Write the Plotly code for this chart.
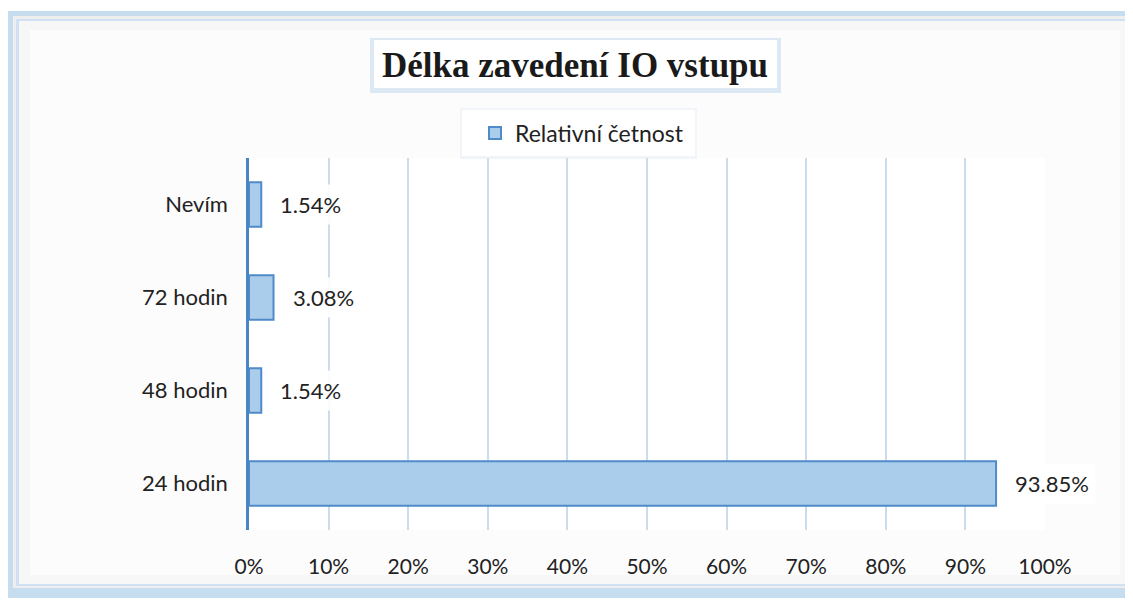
import plotly.graph_objects as go

categories = ["24 hodin", "48 hodin", "72 hodin", "Nevím"]
values = [93.85, 1.54, 3.08, 1.54]
value_labels = ["93.85%", "1.54%", "3.08%", "1.54%"]
series_name = "Relativní četnost"
title_text = "Délka zavedení IO vstupu"

# the page body has an 8px margin, so the figure is drawn 8px in from the corner
OFF = 8
W, H = 1133 - OFF, 605 - OFF
PL, PR, PT, PB = 249, 1045, 158, 530  # plot area in window pixels


def px(x):
    return (x - PL) / (PR - PL)


def py(y):
    return (PB - y) / (PB - PT)


FONT = "Lato, 'Open Sans', sans-serif"

fig = go.Figure()
fig.add_trace(go.Bar(
    y=categories, x=values, orientation="h", name=series_name,
    width=0.48,
    marker=dict(color="#AACDEB", line=dict(color="#4F8BC8", width=2)),
    hoverinfo="skip",
))

shapes = []


def rect(x0, y0, x1, y1, fill, line=None, lw=0):
    shapes.append(dict(type="rect", xref="paper", yref="paper",
                       x0=px(x0), x1=px(x1), y0=py(y1), y1=py(y0),
                       fillcolor=fill, line=dict(color=line or fill, width=lw),
                       layer="below"))


# frame
rect(5, 11, 1140, 598, "#C6DDF0")
rect(13, 16, 1140, 588, "#EEEEEE")
rect(16, 19, 1136, 586, "#CFE1F2")
rect(19, 21, 1131, 584, "#F7F7F7")
rect(30, 30, 1120, 575, "#FCFCFC")
rect(PL, PT, PR, PB, "#FFFFFF")
# title box
rect(370, 38, 781, 93, "#DCE9F5")
rect(374, 40, 777, 88, "#FFFFFF")
# legend box
rect(460, 108, 697, 159, "#F1F5FA")
rect(462, 110, 695, 156, "#FFFFFF")

annotations = [dict(
    text="<b>" + title_text + "</b>", xref="paper", yref="paper",
    x=px(575), y=py(65), xanchor="center", yanchor="middle", showarrow=False,
    font=dict(family="'Liberation Serif', 'Times New Roman', serif", size=35, color="#1A1A1A"),
)]
for c, v, t in zip(categories, values, value_labels):
    annotations.append(dict(
        text=t, x=v, y=c, xref="x", yref="y", xanchor="left", yanchor="middle",
        xshift=12, showarrow=False, bgcolor="rgba(255,255,255,0.9)", borderpad=6,
        font=dict(family=FONT, size=22, color="#222222"),
    ))

fig.update_layout(
    width=W, height=H,
    margin=dict(l=PL - OFF, r=W + OFF - PR, t=PT - OFF, b=H + OFF - PB),
    paper_bgcolor="#FFFFFF", plot_bgcolor="rgba(0,0,0,0)",
    shapes=shapes, annotations=annotations,
    showlegend=True,
    legend=dict(orientation="h", x=px(582), y=py(133), xanchor="center", yanchor="middle",
                bgcolor="rgba(0,0,0,0)", borderwidth=0,
                font=dict(family=FONT, size=23, color="#222222"),
                itemsizing="constant", itemwidth=30),
    bargap=0.5,
)
fig.update_xaxes(range=[0, 100], dtick=10, ticksuffix="%", showgrid=True,
                 gridcolor="#C9DDEF", gridwidth=1.5, zeroline=False, showline=False,
                 ticks="", ticklabelstandoff=22, tickfont=dict(family=FONT, size=21, color="#222222"),
                 fixedrange=True)
fig.update_yaxes(range=[-0.5, 3.5], showgrid=False, zeroline=False, showline=True,
                 linecolor="#4A86C5", linewidth=2.5, ticks="", ticklabelstandoff=14,
                 tickfont=dict(family=FONT, size=22, color="#222222"), fixedrange=True)

fig.write_html("out.html")
